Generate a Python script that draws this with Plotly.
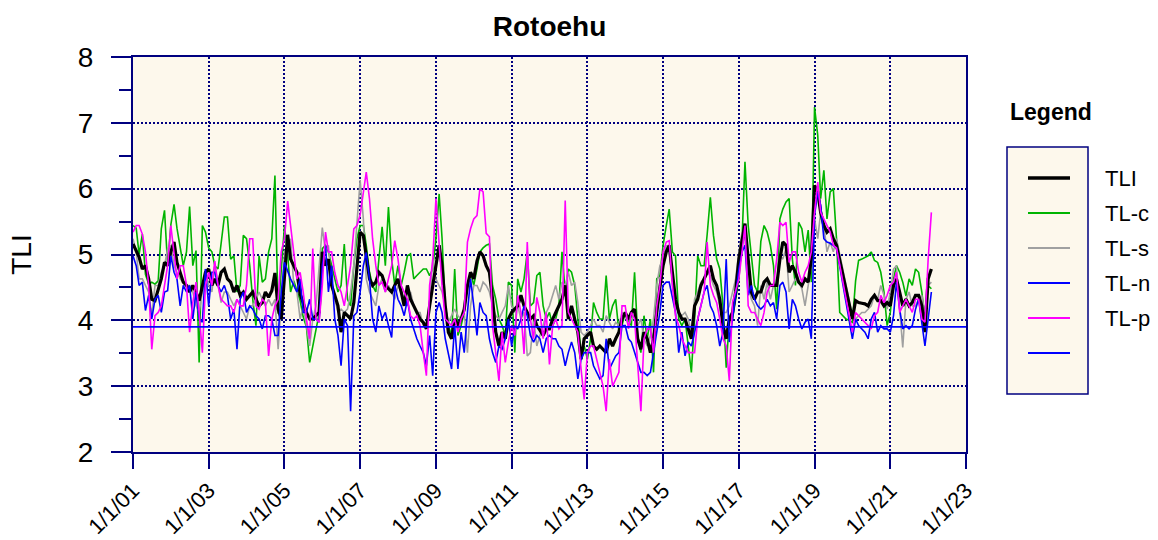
import pandas as pd
import plotly.graph_objects as go

# ---------------- data (monthly samples, Jan 2001 .. Feb 2022) ----------------
START = "2001-01-01"

TLI = [
    5.16,5.04,4.96,4.78,4.83,4.63,4.32,4.30,4.48,4.63,
    4.88,4.83,5.04,5.19,4.88,4.73,4.58,4.53,4.43,4.53,
    4.43,4.30,4.53,4.73,4.78,4.53,4.63,4.53,4.73,4.78,
    4.63,4.58,4.43,4.53,4.38,4.43,4.32,4.38,4.43,4.32,
    4.22,4.27,4.43,4.35,4.45,4.72,4.17,4.02,4.60,5.30,
    4.93,4.83,4.73,4.40,4.25,4.12,4.02,4.02,4.07,4.12,
    5.04,4.83,4.93,4.53,4.38,4.22,3.82,4.12,4.07,4.02,
    4.27,4.83,5.34,5.29,4.93,4.63,4.53,4.58,4.73,4.68,
    4.53,4.48,4.43,4.53,4.63,4.43,4.22,4.53,4.32,4.22,
    4.12,4.02,3.97,3.87,4.22,4.53,4.90,5.14,4.83,4.22,
    3.82,3.72,4.02,3.92,4.02,4.17,4.53,4.73,4.63,4.90,
    5.04,4.98,4.83,4.73,4.32,3.82,3.61,3.82,3.72,4.02,
    4.12,4.17,4.22,4.38,4.22,4.12,4.02,4.07,3.92,3.85,
    3.77,3.87,3.87,4.02,4.12,4.22,4.32,4.53,4.02,4.22,
    4.02,3.82,3.41,3.72,3.77,3.82,3.61,3.56,3.61,3.56,
    3.51,3.72,3.61,3.72,3.82,4.02,4.12,4.02,4.12,4.17,
    3.72,3.56,3.82,3.72,3.51,3.72,4.17,4.50,4.83,5.04,
    5.14,4.73,4.32,4.12,4.02,4.02,3.87,3.72,4.22,4.32,
    4.53,4.63,4.75,4.83,4.63,4.53,4.32,3.92,3.72,4.02,
    4.12,4.43,4.93,5.24,5.47,4.93,4.43,4.32,4.43,4.43,
    4.58,4.63,4.53,4.53,4.53,4.93,5.19,5.14,4.73,4.83,
    4.73,4.58,4.53,4.63,4.58,4.93,6.05,5.95,5.64,5.44,
    5.34,5.39,5.24,5.14,None,None,None,None,4.02,4.30,
    4.27,4.26,4.25,4.22,4.32,4.38,4.30,4.30,4.22,4.27,
    4.22,4.53,4.63,4.43,4.22,4.32,4.22,4.27,4.38,4.38,
    4.22,3.82,4.63,4.78,
]

TL_C = [
    5.44,5.40,5.00,5.31,4.70,4.55,4.58,4.55,4.60,5.39,
    5.67,4.83,5.45,5.76,5.40,5.10,4.83,5.04,5.73,4.83,
    5.06,3.36,5.44,5.34,5.10,5.04,4.83,4.78,5.14,5.57,
    5.57,4.93,4.98,4.43,4.53,5.29,5.24,4.83,4.32,3.92,
    4.98,4.58,4.63,5.04,5.24,6.20,4.10,4.70,5.44,5.00,
    4.43,4.60,4.45,4.30,4.05,3.90,3.36,3.60,3.85,4.10,
    5.09,5.14,5.04,4.83,4.63,4.43,4.53,5.16,4.32,4.22,
    4.83,5.24,5.44,5.44,5.14,4.73,4.53,4.43,4.93,5.42,
    4.83,5.72,4.93,4.53,4.83,4.53,4.73,4.98,5.01,4.63,
    4.68,4.73,4.78,4.78,4.68,4.78,5.24,5.92,5.25,4.22,
    3.92,3.77,4.78,3.77,3.92,4.12,4.53,4.73,4.53,4.78,
    5.04,5.10,5.14,5.16,4.53,4.32,4.02,3.92,3.77,4.58,
    4.53,3.51,4.63,4.43,4.63,5.04,4.22,4.27,4.68,4.73,
    4.22,4.02,4.12,3.92,4.02,4.22,5.04,4.43,4.78,4.73,
    4.53,4.02,3.51,3.61,3.41,3.72,4.27,4.12,4.02,4.02,
    4.68,4.02,4.22,4.32,3.82,3.92,4.12,4.00,3.92,4.73,
    3.77,3.51,4.07,3.72,4.02,3.21,4.63,4.68,5.14,5.44,
    5.69,5.04,4.98,4.02,3.92,4.02,3.61,3.21,4.02,4.98,
    4.83,4.83,5.30,5.87,5.29,4.93,4.78,4.22,3.28,4.02,
    4.02,4.32,4.63,5.24,6.41,5.44,5.04,4.53,4.43,5.20,
    5.44,5.34,5.14,4.83,4.17,5.54,5.69,5.80,5.85,4.93,
    4.53,5.49,5.39,5.04,5.37,4.58,7.24,6.81,5.85,6.28,
    5.54,5.95,6.00,5.24,4.12,4.07,4.02,4.00,3.97,4.60,
    4.91,4.93,4.96,4.98,5.04,4.91,4.88,4.73,4.43,3.92,
    4.12,4.63,4.83,4.73,4.58,4.37,4.63,4.53,4.78,4.73,
    4.43,4.02,4.53,4.48,
]

TL_S = [
    5.24,5.04,4.63,4.63,4.53,4.43,4.07,4.53,4.53,4.73,
    4.83,5.09,5.14,4.83,4.73,4.63,4.58,4.53,4.53,4.43,
    4.22,4.12,4.43,4.78,4.53,4.43,4.83,4.53,4.27,4.43,
    4.43,4.32,4.22,4.32,4.22,4.12,4.02,4.22,4.22,4.32,
    4.43,4.32,4.22,4.32,4.22,4.32,3.56,4.27,5.04,5.14,
    5.24,4.53,4.43,4.02,4.22,3.92,3.61,4.02,4.22,4.80,
    5.41,5.04,5.14,4.53,4.32,4.12,4.17,4.12,4.17,4.43,
    4.83,5.50,6.13,5.54,4.63,4.43,4.32,4.22,4.53,4.63,
    4.43,4.53,4.43,4.32,4.53,4.43,4.32,4.22,4.43,4.22,
    4.12,4.12,3.92,3.97,4.22,4.93,4.63,4.53,4.43,4.22,
    3.97,4.07,4.17,4.07,4.02,4.12,3.51,4.22,4.53,4.53,
    4.43,4.58,4.53,4.43,4.22,4.07,4.02,4.12,4.22,4.53,
    4.22,4.12,4.22,4.02,4.12,3.46,3.51,4.02,3.61,3.77,
    3.92,4.12,4.22,4.38,4.53,4.32,4.58,4.53,4.73,4.53,
    4.58,4.27,3.82,3.77,3.82,3.92,4.02,3.92,3.92,3.82,
    4.07,3.97,3.87,3.97,3.92,4.12,4.07,3.92,4.02,4.07,
    3.92,4.02,3.72,3.61,3.77,4.02,4.53,4.83,4.93,5.14,
    5.04,4.53,4.22,4.12,4.07,4.12,4.02,3.82,4.32,4.43,
    4.58,4.63,4.73,4.68,4.53,4.43,4.22,4.12,4.12,4.22,
    4.43,4.63,5.04,5.34,5.24,4.53,4.32,4.22,3.92,4.53,
    4.32,4.58,4.32,4.53,4.53,4.98,4.93,5.09,4.43,4.53,
    4.63,4.58,4.48,4.22,4.53,4.83,5.54,5.24,5.64,5.44,
    5.04,5.19,5.04,5.24,None,None,None,None,4.07,4.02,
    4.07,4.12,4.12,4.17,4.22,4.38,4.32,4.53,4.38,4.17,
    4.43,4.78,4.83,4.17,3.59,4.32,4.43,4.22,4.22,4.32,
    4.38,4.12,4.53,4.58,
]

TL_N = [
    4.98,4.83,4.53,4.58,4.15,4.38,4.02,4.32,4.38,4.12,
    4.43,4.45,4.98,4.73,4.63,4.22,4.53,4.43,4.53,4.02,
    4.43,4.02,3.97,4.78,4.22,4.73,4.73,4.53,4.43,4.53,
    4.38,4.02,4.17,3.56,4.32,4.43,4.12,4.22,4.17,4.07,
    4.02,3.87,4.07,4.07,4.02,3.77,3.77,4.43,4.88,4.73,
    4.63,4.53,4.43,4.63,4.12,4.12,4.32,4.02,4.02,3.97,
    4.83,5.14,4.43,4.83,4.02,3.77,3.31,4.02,3.92,2.62,
    4.07,4.12,4.43,4.83,5.03,4.63,4.02,3.82,4.22,4.02,
    4.12,3.92,3.74,4.53,4.32,4.22,4.07,4.32,4.02,3.87,
    3.72,3.61,3.51,3.31,3.77,3.16,4.12,4.27,4.12,3.72,
    3.51,3.26,3.92,3.26,3.82,3.51,4.12,4.63,4.22,3.77,
    4.27,4.12,4.07,3.72,3.51,3.36,3.61,3.56,3.72,4.02,
    3.61,3.92,3.87,4.02,4.22,4.07,3.77,3.67,3.77,3.72,
    3.51,3.72,3.77,3.72,3.72,3.61,3.56,3.31,3.51,3.67,
    3.51,3.11,3.41,3.51,3.51,3.51,3.31,3.21,3.11,3.16,
    3.72,3.26,3.36,3.46,3.51,3.92,3.92,3.72,3.67,3.51,
    3.36,3.21,3.21,3.16,3.21,3.51,3.77,4.12,4.53,4.58,
    4.58,4.32,4.12,3.51,3.82,3.46,3.67,3.61,3.82,4.02,
    4.22,4.43,4.53,4.22,4.12,3.92,3.61,3.82,4.93,3.67,
    4.02,4.43,4.78,5.04,5.14,4.38,4.53,4.32,4.22,4.17,
    4.22,4.32,4.22,4.27,4.02,4.53,4.58,4.43,3.87,4.32,
    4.22,4.02,3.87,3.97,4.02,3.72,5.59,5.95,5.75,5.24,
    5.19,5.17,5.14,5.10,None,None,None,None,3.72,4.02,
    3.92,3.87,3.82,3.72,4.02,4.12,3.82,3.92,3.87,3.87,
    3.82,4.07,4.58,4.17,3.87,3.92,3.87,3.92,4.17,4.32,
    3.92,3.61,4.02,4.43,
]

TL_P = [
    5.34,5.44,5.44,5.31,5.04,4.53,3.56,4.07,4.12,4.22,
    4.53,4.83,5.44,5.04,4.63,4.83,4.83,4.53,3.82,4.27,
    4.58,4.12,3.51,4.53,4.73,4.53,4.90,4.53,4.32,4.27,
    4.22,4.22,4.12,4.32,4.22,4.22,4.53,5.24,5.24,4.22,
    4.17,4.32,4.27,3.46,4.02,4.22,4.32,5.04,5.24,5.81,
    5.44,5.04,4.63,4.73,4.43,4.02,3.72,5.09,4.02,3.97,
    4.53,5.34,5.04,5.04,4.73,4.53,4.43,4.22,4.53,4.83,
    5.39,5.44,5.60,5.95,6.25,5.85,5.24,4.83,4.53,4.58,
    4.43,4.63,4.83,5.21,4.93,4.53,4.43,4.32,4.07,4.02,
    4.07,3.92,3.51,3.16,4.53,4.90,5.85,5.10,4.53,4.02,
    3.97,3.92,4.02,3.82,4.02,4.12,5.19,5.39,5.54,5.59,
    6.00,5.95,5.32,5.27,3.92,3.51,3.08,3.82,3.36,3.67,
    3.92,3.77,4.38,4.12,3.49,5.19,4.02,3.72,4.35,4.12,
    3.72,4.12,3.33,3.92,4.02,3.87,3.92,5.82,4.12,4.02,
    3.92,3.82,3.26,2.80,3.51,3.61,3.61,3.41,3.21,3.00,
    2.62,3.41,3.00,3.11,3.21,4.22,4.22,3.87,4.12,4.02,
    3.31,2.62,3.72,3.87,3.87,3.51,4.22,4.53,5.04,5.19,
    5.21,4.53,4.07,3.92,3.72,3.61,3.51,3.51,3.51,4.02,
    4.22,4.43,5.19,4.53,4.38,4.27,4.02,3.72,3.61,3.08,
    4.27,4.43,4.63,5.04,5.44,4.22,4.12,4.12,4.02,3.92,
    4.12,4.43,4.53,4.53,4.93,5.49,5.44,5.49,4.88,5.04,
    5.04,4.73,4.58,4.73,4.83,5.04,5.64,6.10,5.64,5.54,
    5.44,5.34,5.14,5.10,None,None,None,None,3.82,4.12,
    4.07,4.02,3.97,3.92,3.87,4.07,4.12,4.38,4.27,4.38,
    4.53,4.58,4.73,4.12,4.22,4.32,4.22,4.12,4.32,4.32,
    4.02,3.97,4.93,5.64,
]

REF_LEVEL = 3.9
REF_SPAN = ["2001-01-01", "2023-01-01"]

X_TICK_DATES = ["2001-01-01", "2003-01-01", "2005-01-01", "2007-01-01",
                "2009-01-01", "2011-01-01", "2013-01-01", "2015-01-01",
                "2017-01-01", "2019-01-01", "2021-01-01", "2023-01-01"]
X_TICK_LABELS = ["1/1/01", "1/1/03", "1/1/05", "1/1/07", "1/1/09", "1/1/11",
                 "1/1/13", "1/1/15", "1/1/17", "1/1/19", "1/1/21", "1/1/23"]

SERIES_NAMES = ["TLI", "TL-c", "TL-s", "TL-n", "TL-p"]

# ---------------- styling ----------------
NAVY = "#000080"
BG = "#FDF8EC"
FONT = "Arial, Liberation Sans, sans-serif"
COLORS = {"TLI": "#000000", "TL-c": "#00B400", "TL-s": "#A0A0A0",
          "TL-n": "#0000FF", "TL-p": "#FF00FF"}
WIDTHS = {"TLI": 3.2, "TL-c": 1.6, "TL-s": 1.6, "TL-n": 1.6, "TL-p": 1.6}
REF_COLOR = "#0000FF"

W, H = 1158, 540
PL, PR, PT, PB = 133, 966, 57, 452  # plot area in pixels


def px_x(px):
    return (px - PL) / (PR - PL)


def px_y(py):
    return (PB - py) / (PB - PT)


def months(n):
    return pd.date_range(START, periods=n, freq="MS")


values = {"TLI": TLI, "TL-c": TL_C, "TL-s": TL_S, "TL-n": TL_N, "TL-p": TL_P}
draw_order = ["TL-c", "TL-s", "TLI", "TL-n", "TL-p"]

fig = go.Figure()
for name in draw_order:
    ys = values[name]
    fig.add_trace(go.Scatter(
        x=months(len(ys)), y=ys, mode="lines", name=name,
        connectgaps=True,
        line=dict(color=COLORS[name], width=WIDTHS[name]),
        hoverinfo="skip", showlegend=False))

fig.add_trace(go.Scatter(
    x=REF_SPAN, y=[REF_LEVEL, REF_LEVEL], mode="lines",
    line=dict(color=REF_COLOR, width=1.6), showlegend=False, hoverinfo="skip"))

# ---------------- manual legend (labels sit outside the box) ----------------
shapes = [dict(type="rect", xref="paper", yref="paper",
               x0=px_x(1007), x1=px_x(1088), y0=px_y(394), y1=px_y(147),
               fillcolor=BG, line=dict(color=NAVY, width=1.5), layer="below")]
annotations = [dict(text="<b>Legend</b>", xref="paper", yref="paper",
                    x=px_x(1008), y=px_y(112), xanchor="left", yanchor="middle",
                    showarrow=False, font=dict(family=FONT, size=23, color="#000"))]
entry_y = [178, 213, 248, 283, 318, 353]
legend_items = [(n, COLORS[n], 3.5 if n == "TLI" else 2.2) for n in SERIES_NAMES]
legend_items.append(("", REF_COLOR, 2.2))
for (label, color, lw), yy in zip(legend_items, entry_y):
    shapes.append(dict(type="line", xref="paper", yref="paper",
                       x0=px_x(1028), x1=px_x(1070), y0=px_y(yy), y1=px_y(yy),
                       line=dict(color=color, width=lw)))
    if label:
        annotations.append(dict(text=label, xref="paper", yref="paper",
                                x=px_x(1103), y=px_y(yy), xanchor="left",
                                yanchor="middle", showarrow=False,
                                font=dict(family=FONT, size=22, color="#000")))

fig.update_layout(
    width=W, height=H, autosize=False,
    margin=dict(l=PL, r=W - PR, t=PT, b=H - PB, autoexpand=False),
    paper_bgcolor="white", plot_bgcolor=BG,
    font=dict(family=FONT, color="#000"),
    title=dict(text="<b>Rotoehu</b>", x=0.5, xref="paper", xanchor="center",
               y=1 - 26 / H, yref="container", yanchor="middle",
               font=dict(family=FONT, size=28, color="#000")),
    shapes=shapes, annotations=annotations, showlegend=False,
)

fig.update_xaxes(
    type="date", range=REF_SPAN, automargin=False,
    tickmode="array", tickvals=X_TICK_DATES, ticktext=X_TICK_LABELS,
    tickangle=-45, tickfont=dict(family=FONT, size=22, color="#000"),
    ticks="outside", ticklen=15, tickwidth=2, tickcolor=NAVY,
    showgrid=True, gridcolor=NAVY, gridwidth=1.5, griddash="2px,2px",
    showline=True, linecolor=NAVY, linewidth=2, mirror=True, zeroline=False,
)
fig.update_yaxes(
    range=[2, 8], tickmode="linear", tick0=2, dtick=1, automargin=False,
    tickfont=dict(family=FONT, size=28, color="#000"),
    ticks="outside", ticklen=20, tickwidth=2, tickcolor=NAVY,
    ticklabelstandoff=12,
    minor=dict(dtick=0.5, tick0=2, ticks="outside", ticklen=12,
               tickwidth=2, tickcolor=NAVY, showgrid=False),
    showgrid=True, gridcolor=NAVY, gridwidth=1.5, griddash="2px,2px",
    showline=True, linecolor=NAVY, linewidth=2, mirror=True, zeroline=False,
    title=dict(text="TLI", font=dict(family=FONT, size=28, color="#000"),
               standoff=38),
)

fig.write_html("out.html", config={"displayModeBar": False},
               post_script="document.body.style.margin='0';")
